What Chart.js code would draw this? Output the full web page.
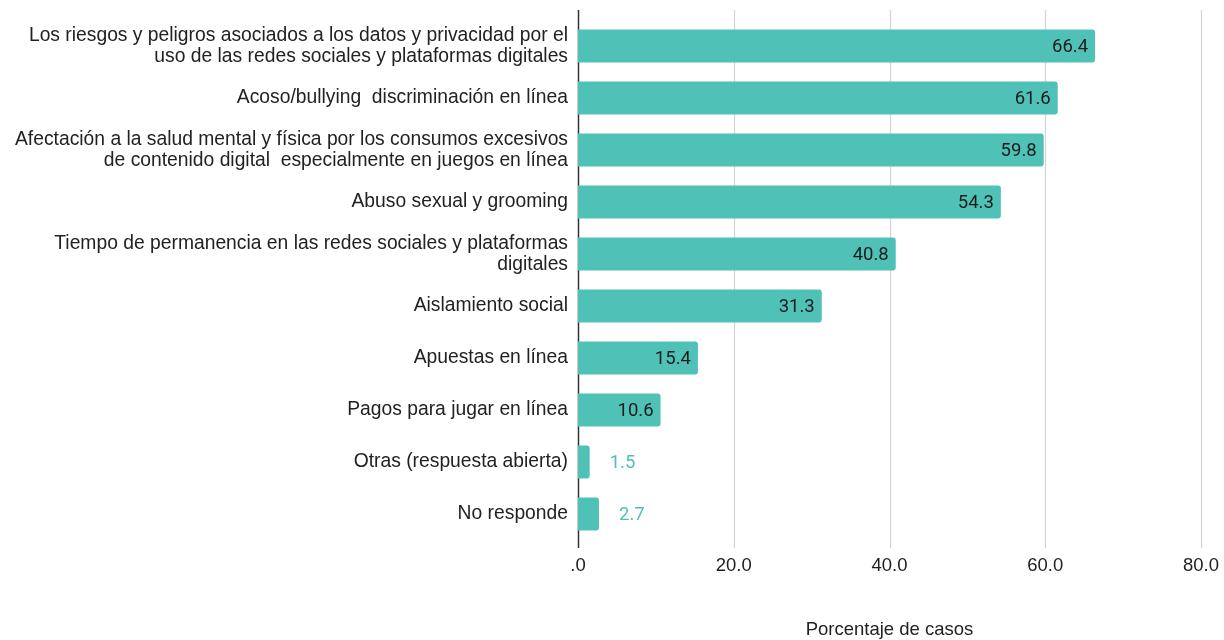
<!DOCTYPE html>
<html>
<head>
<meta charset="utf-8">
<script src="https://cdn.jsdelivr.net/npm/chart.js@4"></script>
<style>
  html, body { margin: 0; padding: 0; background: #fff; }
  #wrap { width: 1224px; height: 640px; }
</style>
</head>
<body>
<div id="wrap"><canvas id="riesgos-digitales"></canvas></div>
<script>
const categorias = [
  ['Los riesgos y peligros asociados a los datos y privacidad por el', 'uso de las redes sociales y plataformas digitales'],
  'Acoso/bullying  discriminación en línea',
  ['Afectación a la salud mental y física por los consumos excesivos', 'de contenido digital  especialmente en juegos en línea'],
  'Abuso sexual y grooming',
  ['Tiempo de permanencia en las redes sociales y plataformas', 'digitales'],
  'Aislamiento social',
  'Apuestas en línea',
  'Pagos para jugar en línea',
  'Otras (respuesta abierta)',
  'No responde'
];
const porcentajes = [66.4, 61.6, 59.8, 54.3, 40.8, 31.3, 15.4, 10.6, 1.5, 2.7];
const ticksX = [0, 20, 40, 60, 80];
const tituloX = 'Porcentaje de casos';

const verde = '#4fc1b6';
const fuenteY = { family: 'Liberation Sans', size: 19.3, lineHeight: '21px' };
const fuenteX = { family: 'Liberation Sans', size: 18.5, lineHeight: '20.7px' };

// grid verticales y eje en 0, un poco más largos que el área
const lineasGrid = {
  id: 'lineasGrid',
  beforeDatasetsDraw(chart) {
    const { ctx, chartArea, scales } = chart;
    const top = chartArea.top - 10;
    const bottom = chartArea.bottom + 8;
    ctx.save();
    ticksX.forEach(v => {
      const x = Math.round(scales.x.getPixelForValue(v)) + 0.5;
      ctx.beginPath();
      ctx.strokeStyle = v === 0 ? '#333' : '#d4d4d4';
      ctx.lineWidth = v === 0 ? 1.5 : 1.2;
      ctx.moveTo(x, top);
      ctx.lineTo(x, bottom);
      ctx.stroke();
    });
    ctx.restore();
  }
};

// etiqueta de valor en cada barra
const etiquetas = {
  id: 'etiquetas',
  afterDatasetsDraw(chart) {
    const { ctx } = chart;
    const meta = chart.getDatasetMeta(0);
    ctx.save();
    ctx.font = '18.5px Roboto';
    ctx.textBaseline = 'middle';
    meta.data.forEach((bar, i) => {
      const v = porcentajes[i];
      const txt = v.toFixed(1);
      if (v > 5) {
        ctx.fillStyle = '#1c1c1c';
        ctx.textAlign = 'right';
        ctx.fillText(txt, bar.x - 7, bar.y + 1);
      } else {
        ctx.fillStyle = verde;
        ctx.textAlign = 'left';
        ctx.fillText(txt, bar.x + 20, bar.y + 1);
      }
    });
    ctx.restore();
  }
};

const ctx = document.getElementById('riesgos-digitales').getContext('2d');

new Chart(ctx, {
  type: 'bar',
  data: {
    labels: categorias,
    datasets: [{
      data: porcentajes,
      backgroundColor: verde,
      borderRadius: 3,
      borderSkipped: 'start',
      barPercentage: 0.635,
      categoryPercentage: 1
    }]
  },
  options: {
    indexAxis: 'y',
    responsive: true,
    maintainAspectRatio: false,
    animation: false,
    layout: { padding: { top: 20, right: 23, bottom: 0, left: 0 } },
    plugins: {
      legend: { display: false },
      tooltip: { enabled: false }
    },
    scales: {
      x: {
        min: 0,
        max: 80,
        afterFit: s => { s.height = 100; s.paddingRight = 0; s.paddingLeft = 0; },
        afterBuildTicks: s => { s.ticks = ticksX.map(v => ({ value: v })); },
        grid: { display: false },
        border: { display: false },
        ticks: {
          padding: 8,
          color: '#222',
          font: fuenteX,
          callback: v => v === 0 ? '.0' : v.toFixed(1)
        },
        title: {
          display: true,
          text: tituloX,
          color: '#222',
          font: fuenteX,
          padding: { top: 0, bottom: 0 }
        }
      },
      y: {
        afterFit: s => { s.width = 578; },
        grid: { display: false },
        border: { display: false },
        ticks: {
          padding: 2,
          color: '#222',
          font: fuenteY
        }
      }
    }
  },
  plugins: [lineasGrid, etiquetas]
});
</script>
</body>
</html>
